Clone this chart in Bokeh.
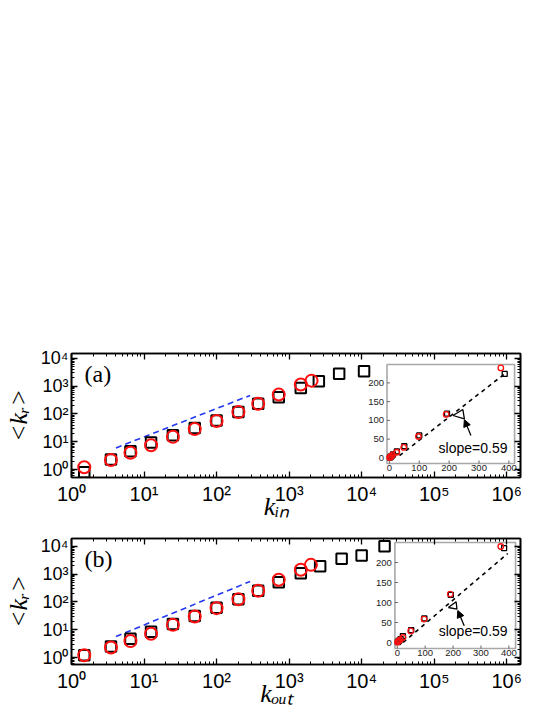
from bokeh.plotting import figure
from bokeh.models import Label, LogAxis, Range1d, LinearScale, FixedTicker, Arrow, NormalHead
from bokeh.layouts import column
from bokeh.embed import file_html
from bokeh.resources import INLINE
from bokeh.core.properties import value

# ---------------- data ----------------
x_decades = [1, 10, 100, 1000, 10000, 100000, 1000000]
x_decade_labels = ["10⁰", "10¹", "10²", "10³", "10⁴", "10⁵", "10⁶"]
y_decades = [1, 10, 100, 1000, 10000]
y_decade_labels = ["10⁰", "10¹", "10²", "10³", "10⁴"]

y_title = "<kᵣ>"
a_x_title = "kᵢₙ"
b_x_title = "kₒᵤₜ"
title_pad = "\u2002\u2002\u2002"   # trailing en spaces: shifts the centred title left

# panel (a): <k_r> vs k_in
a_sq_x = [1.5, 3.5, 6.5, 12.5, 25, 50, 100, 200, 375, 720, 1450, 2570, 4900, 10800]
a_sq_y = [0.8, 2.3, 4.5, 9.4, 17, 31, 58, 118, 235, 400, 870, 1510, 2830, 3450]
a_ci_x = [1.5, 3.5, 6.5, 12.5, 25, 50, 100, 200, 375, 720, 1450, 2040]
a_ci_y = [1.2, 2.2, 4.0, 7.5, 15, 28.5, 56, 117, 233, 500, 1150, 1590]
a_fit_x = [4.1, 290]
a_fit_y = [6.0, 466]

# panel (b): <k_r> vs k_out
b_sq_x = [1.5, 3.5, 6.5, 12.5, 25, 50, 100, 200, 375, 720, 1450, 2680, 5300, 10000, 20700]
b_sq_y = [1.2, 2.5, 4.7, 8.5, 16, 31, 62, 125, 255, 520, 1090, 1950, 3600, 4750, 10200]
b_ci_x = [1.5, 3.5, 6.5, 12.5, 25, 50, 100, 200, 375, 720, 1450, 2000]
b_ci_y = [1.2, 2.3, 3.9, 7.2, 15, 30, 60, 125, 255, 630, 1450, 2180]
b_fit_x = [4.1, 290]
b_fit_y = [5.7, 550]

# insets (linear axes)
inset_x_ticks = [0, 100, 200, 300, 400]
inset_y_ticks = [0, 50, 100, 150, 200]

ia_sq_x = [2, 4, 7, 12, 25, 50, 100, 193, 386]
ia_sq_y = [1, 2.5, 4.5, 9, 17, 31, 60, 118, 224]
ia_ci_x = [1, 3, 6, 11, 25, 48, 97, 190, 373]
ia_ci_y = [1, 2, 4, 8, 15, 28, 57, 116, 240]
ia_fit_x = [34, 389]
ia_fit_y = [6, 226]
ia_tri_x = [213, 246, 251, 213]
ia_tri_y = [113, 129, 104, 113]
ia_arrow = (273, 59.5, 251, 102)
ia_slope_xy = (280, 27)

ib_sq_x = [2, 4, 7, 12, 20, 50, 97, 192, 383]
ib_sq_y = [1.2, 2.5, 4.7, 8.5, 16, 31, 60, 119, 236]
ib_ci_x = [1, 3, 6, 11, 21, 48, 96, 190, 371]
ib_ci_y = [1, 2, 4, 7, 12.5, 29, 58.5, 121, 240]
ib_fit_x = [21, 396]
ib_fit_y = [0, 222.5]
ib_tri_x = [183, 211, 214, 183]
ib_tri_y = [87.5, 102, 83.5, 87.5]
ib_arrow = (240, 42, 217, 80)
ib_slope_xy = (272, 29)

slope_text = "slope=0.59"

# ---------------- layout constants ----------------
FW = 454
SANS = "Liberation Sans"
SERIF = "Liberation Serif"
minors = [k * 10.0 ** e for e in range(-1, 7) for k in range(2, 10)]


def style_axis(ax, font_size, show):
    ax.axis_line_color = "black"
    ax.axis_line_width = 1.6
    ax.major_tick_in = 6
    ax.major_tick_out = 0
    ax.minor_tick_in = 3
    ax.minor_tick_out = 0
    ax.major_tick_line_color = "black"
    ax.minor_tick_line_color = "black"
    ax.major_tick_line_width = 1.3
    ax.minor_tick_line_width = 1
    ax.major_label_text_font = SANS
    ax.major_label_text_font_size = font_size
    if show:
        ax.major_label_text_color = "black"
    else:
        ax.major_label_text_alpha = 0
        ax.major_label_standoff = 0


def build(letter, x_title, fh, top, bottom, yr, sq_x, sq_y, ci_x, ci_y, fit_x, fit_y,
          box, drange, i_sq_x, i_sq_y, i_ci_x, i_ci_y, i_fit_x, i_fit_y,
          tri_x, tri_y, arrow, slope_xy):
    p = figure(width=538, height=top + fh + bottom,
               x_axis_type="log", y_axis_type="log",
               x_range=Range1d(1, 1.55e6), y_range=Range1d(*yr),
               output_backend="svg", toolbar_location=None,
               min_border_left=66, min_border_right=18,
               min_border_top=top, min_border_bottom=bottom)
    p.grid.visible = False
    p.outline_line_color = "black"
    p.outline_line_width = 1.6
    p.background_fill_color = "white"
    p.border_fill_color = "white"

    p.xaxis.ticker = FixedTicker(ticks=x_decades, minor_ticks=minors)
    p.yaxis.ticker = FixedTicker(ticks=y_decades, minor_ticks=minors)
    p.xaxis.major_label_overrides = dict(zip(x_decades, x_decade_labels))
    p.yaxis.major_label_overrides = dict(zip(y_decades, y_decade_labels))
    style_axis(p.xaxis[0], "20px", True)
    style_axis(p.yaxis[0], "18px", True)
    p.xaxis.major_label_standoff = 5
    p.yaxis.major_label_standoff = 3

    # axis titles
    p.xaxis.axis_label = x_title + title_pad
    p.xaxis.axis_label_text_font = SERIF
    p.xaxis.axis_label_text_font_style = "italic"
    p.xaxis.axis_label_text_font_size = "26px"
    p.xaxis.axis_label_text_color = "black"
    p.xaxis.axis_label_standoff = -16
    p.yaxis.axis_label = y_title
    p.yaxis.axis_label_text_font = SERIF
    p.yaxis.axis_label_text_font_style = "italic"
    p.yaxis.axis_label_text_font_size = "26px"
    p.yaxis.axis_label_text_color = "black"
    p.yaxis.axis_label_standoff = 5

    top_ax = LogAxis(ticker=FixedTicker(ticks=x_decades, minor_ticks=minors))
    right_ax = LogAxis(ticker=FixedTicker(ticks=y_decades, minor_ticks=minors))
    style_axis(top_ax, "1px", False)
    style_axis(right_ax, "1px", False)
    p.add_layout(top_ax, "above")
    p.add_layout(right_ax, "right")

    # main data
    p.line(fit_x, fit_y, line_color="#2338f0", line_dash="6 4", line_width=1.6)
    p.scatter(sq_x, sq_y, marker="square", size=10.5, fill_color=None,
              line_color="black", line_width=2)
    p.scatter(ci_x, ci_y, marker="circle", size=12, fill_color=None,
              line_color="#ff1010", line_width=2)

    # inset
    l, r, b, t = box
    x0, x1, y0, y1 = drange
    sx = (x1 - x0) / (r - l)
    sy = (y1 - y0) / (t - b)
    p.extra_x_ranges = {"ix": Range1d(x0 - l * sx, x1 + (FW - r) * sx)}
    p.extra_y_ranges = {"iy": Range1d(y0 - b * sy, y1 + (fh - t) * sy)}
    p.extra_x_scales = {"ix": LinearScale()}
    p.extra_y_scales = {"iy": LinearScale()}
    kw = dict(x_range_name="ix", y_range_name="iy")

    p.quad(left=[x0], right=[x1], bottom=[y0], top=[y1], fill_color="white",
           line_color="#a8a8a8", line_width=1.6, **kw)
    nx, ny = len(inset_x_ticks), len(inset_y_ticks)
    p.segment(x0=inset_x_ticks, y0=[y0] * nx, x1=inset_x_ticks, y1=[y0 + 3 * sy] * nx,
              line_color="#666666", line_width=1, **kw)
    p.segment(x0=[x0] * ny, y0=inset_y_ticks, x1=[x0 + 3 * sx] * ny, y1=inset_y_ticks,
              line_color="#666666", line_width=1, **kw)
    p.text(x=inset_x_ticks, y=[y0] * nx, text=[str(v) for v in inset_x_ticks],
           text_align="center", text_baseline="top", y_offset=1,
           text_font=value(SANS), text_font_size="9.5px", text_color="#222222", **kw)
    p.text(x=[x0] * ny, y=inset_y_ticks, text=[str(v) for v in inset_y_ticks],
           text_align="right", text_baseline="middle", x_offset=-3,
           text_font=value(SANS), text_font_size="9.5px", text_color="#222222", **kw)

    p.line(i_fit_x, i_fit_y, line_color="black", line_dash="4 4", line_width=1.6, **kw)
    p.scatter(i_sq_x, i_sq_y, marker="square", size=5, fill_color=None,
              line_color="black", line_width=1.3, **kw)
    p.scatter(i_ci_x, i_ci_y, marker="circle", size=5.5, fill_color=None,
              line_color="#ff1010", line_width=1.3, **kw)
    p.line(tri_x, tri_y, line_color="black", line_width=1.3, **kw)
    p.add_layout(Arrow(end=NormalHead(size=7, fill_color="black", line_color="black"),
                       x_start=arrow[0], y_start=arrow[1], x_end=arrow[2], y_end=arrow[3],
                       line_color="black", line_width=1.3,
                       x_range_name="ix", y_range_name="iy"))
    p.text(x=[slope_xy[0]], y=[slope_xy[1]], text=[slope_text], text_align="center",
           text_baseline="middle", text_font=value(SANS), text_font_size="14px",
           text_color="black", **kw)

    # panel letter
    p.add_layout(Label(x=13, y=fh - 20, x_units="screen", y_units="screen",
                       text=f"({letter})", text_font=SERIF, text_font_size="24px",
                       text_baseline="middle", text_align="left", text_color="black"))
    return p


p1 = build("a", a_x_title, 124, 353, 50, (0.515, 15100),
           a_sq_x, a_sq_y, a_ci_x, a_ci_y, a_fit_x, a_fit_y,
           (319, 448, 14, 113), (-8, 419, -15, 249),
           ia_sq_x, ia_sq_y, ia_ci_x, ia_ci_y, ia_fit_x, ia_fit_y,
           ia_tri_x, ia_tri_y, ia_arrow, ia_slope_xy)

p2 = build("b", b_x_title, 126, 11, 52, (0.56, 19400),
           b_sq_x, b_sq_y, b_ci_x, b_ci_y, b_fit_x, b_fit_y,
           (327, 449, 16, 122), (-8.5, 424, -15, 250),
           ib_sq_x, ib_sq_y, ib_ci_x, ib_ci_y, ib_fit_x, ib_fit_y,
           ib_tri_x, ib_tri_y, ib_arrow, ib_slope_xy)

layout = column(p1, p2)
open("out.html", "w").write(file_html(layout, INLINE))
